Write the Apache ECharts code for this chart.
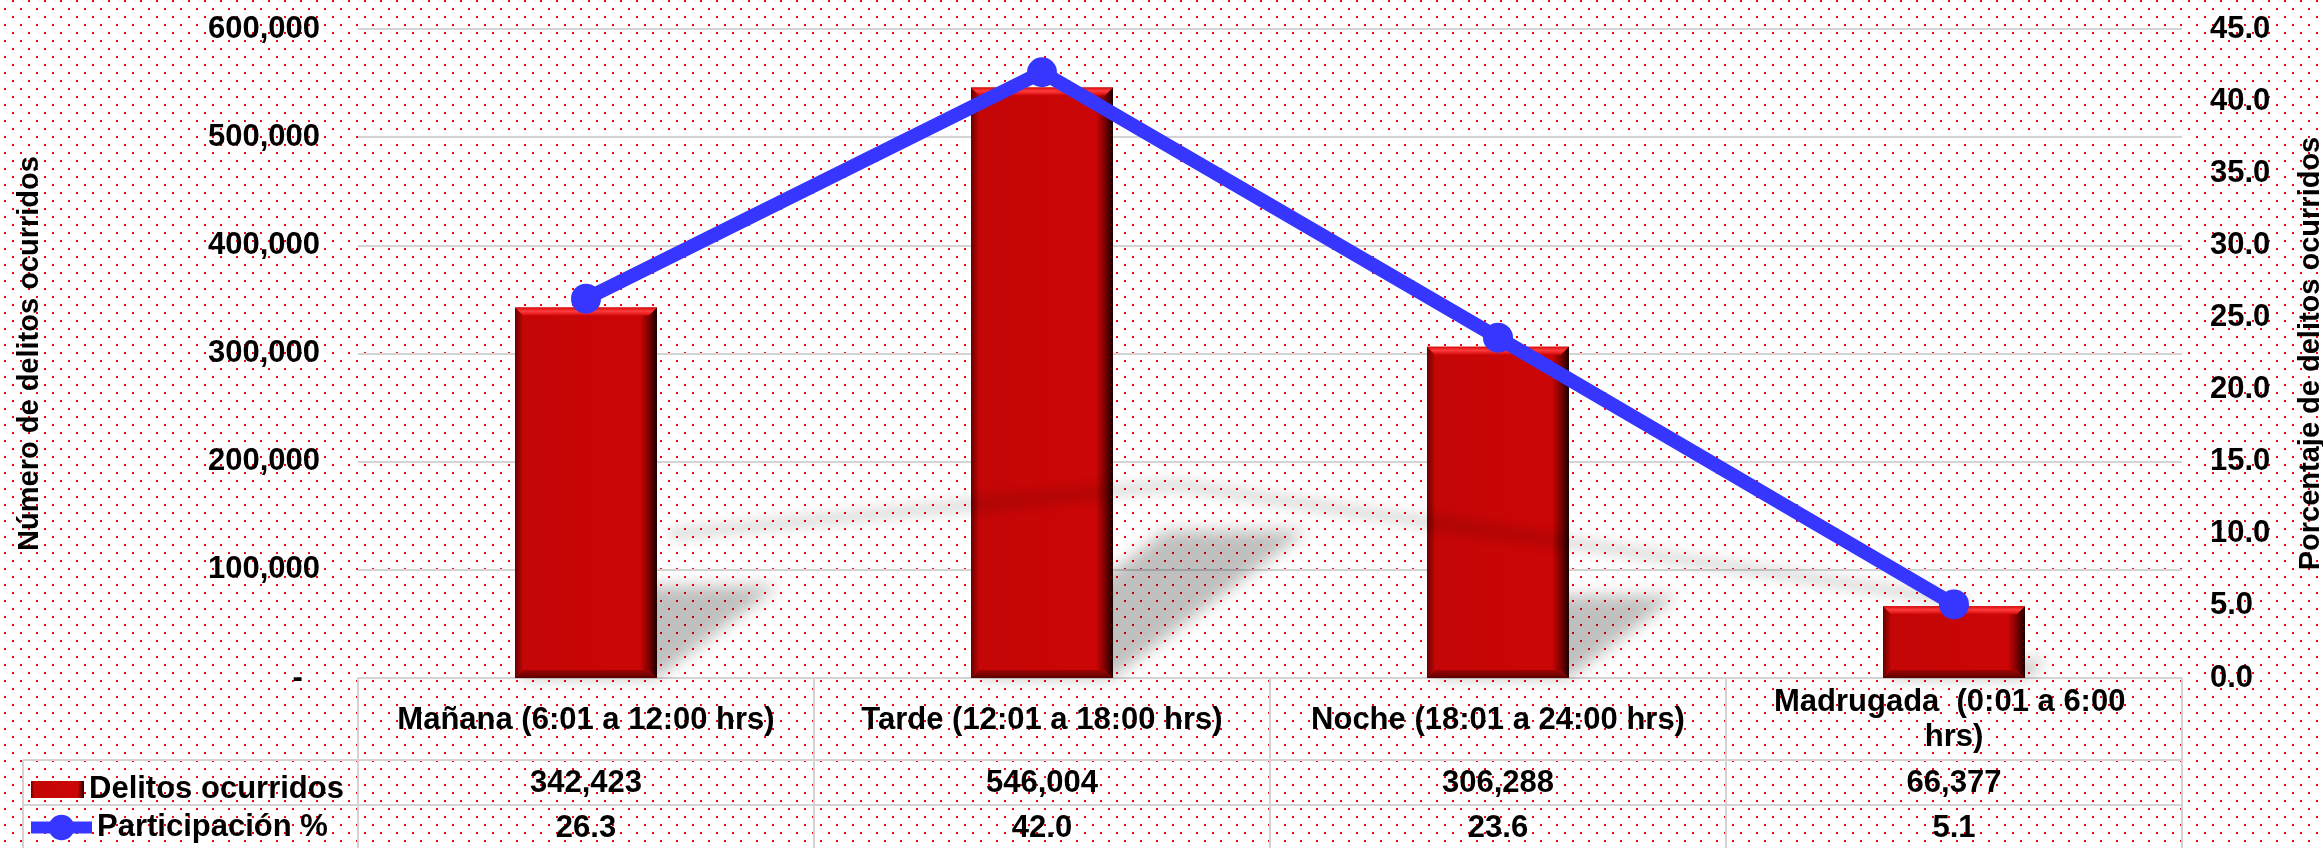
<!DOCTYPE html>
<html>
<head>
<meta charset="utf-8">
<script src="https://cdn.jsdelivr.net/npm/echarts@6/dist/echarts.min.js"></script>
<style>
  html, body { margin: 0; padding: 0; background: #fff; }
  #chart { width: 2323px; height: 848px; }
</style>
</head>
<body>
<div id="chart"></div>
<script>
'use strict';
// datos
const categories = ['Mañana (6:01 a 12:00 hrs)', 'Tarde (12:01 a 18:00 hrs)', 'Noche (18:01 a 24:00 hrs)', 'Madrugada  (0:01 a 6:00 hrs)'];
const delitos = [342423, 546004, 306288, 66377];
const participacion = [26.3, 42.0, 23.6, 5.1];
const leftMax = 600000, leftStep = 100000;
const rightMax = 45, rightStep = 5;

// layout
const GL = 358, GR = 2182, GT = 29, GB = 678;
const ROW1 = 760, ROW2 = 805, TABLE_L = 23, H = 848;
const BAR_W = 142;
const OFF = 4000; // para dibujar solo la sombra difusa
const FONT = 'Liberation Sans';
const GRID_GREY = '#d4d4d4';

// fondo punteado
const tile = document.createElement('canvas');
tile.width = 16; tile.height = 16;
const tctx = tile.getContext('2d');
tctx.fillStyle = '#ffffff';
tctx.fillRect(0, 0, 16, 16);
tctx.fillStyle = '#ff0000';
tctx.fillRect(12, 0, 2, 2);
tctx.fillRect(4, 8, 2, 2);

const fmtInt = v => v.toLocaleString('en-US');

function barShadow(params, api) {
  const i = api.value(0);
  const top = api.coord([i, api.value(1)]);
  const base = api.coord([i, 0])[1];
  const h = base - top[1];
  const x0 = top[0] - BAR_W / 2, x1 = top[0] + BAR_W / 2;
  const dx = 0.33 * h, dy = 0.25 * h;
  return {
    type: 'polygon',
    silent: true,
    shape: { points: [[x0 - OFF, base], [x1 - OFF, base], [x1 + dx - OFF, base - dy], [x0 + dx - OFF, base - dy]] },
    style: { fill: '#000', shadowBlur: 16, shadowColor: 'rgba(0,0,0,0.25)', shadowOffsetX: OFF }
  };
}

function barBevel(params, api) {
  const i = api.value(0);
  const top = api.coord([i, api.value(1)]);
  const base = api.coord([i, 0])[1];
  const x0 = top[0] - BAR_W / 2, x1 = top[0] + BAR_W / 2, y0 = top[1];
  const b = 8;
  return {
    type: 'group',
    silent: true,
    children: [
      {
        type: 'polygon',
        shape: { points: [[x0, y0], [x1, y0], [x1 - b, y0 + b], [x0 + b, y0 + b]] },
        style: { fill: new echarts.graphic.LinearGradient(0, 0, 0, 1, [
          { offset: 0, color: '#d80a0a' }, { offset: 0.45, color: '#ff3d3d' }, { offset: 1, color: '#d20808' }]) }
      },
      {
        type: 'polygon',
        shape: { points: [[x0, base], [x1, base], [x1 - b, base - b], [x0 + b, base - b]] },
        style: { fill: new echarts.graphic.LinearGradient(0, 0, 0, 1, [
          { offset: 0, color: '#a00404' }, { offset: 1, color: '#5a0000' }]) }
      }
    ]
  };
}

function lineShadow(params, api) {
  if (params.dataIndex !== 0) return null;
  const pts = participacion.map((v, i) => {
    const p = api.coord([i, v]);
    const base = api.coord([i, 0])[1];
    const h = base - p[1];
    return [p[0] + 0.22 * h - OFF, base - 60 - 0.22 * h];
  });
  return {
    type: 'polyline',
    silent: true,
    shape: { points: pts },
    style: { stroke: '#000', fill: null, lineWidth: 14, lineJoin: 'round', shadowBlur: 12, shadowColor: 'rgba(0,0,0,0.12)', shadowOffsetX: OFF }
  };
}

const chart = echarts.init(document.getElementById('chart'));
const txt = { fontFamily: FONT, fontWeight: 'bold', color: '#000', fontSize: 31 };

chart.setOption({
  animation: false,
  backgroundColor: { image: tile, repeat: 'repeat' },
  textStyle: { fontFamily: FONT },
  grid: { left: GL, right: 2323 - GR, top: GT, bottom: H - GB, containLabel: false, outerBoundsMode: 'none' },
  legend: [
    {
      data: ['Delitos ocurridos'], left: TABLE_L + 8, top: 774, padding: 0,
      itemWidth: 53, itemHeight: 17, icon: 'rect', selectedMode: false,
      textStyle: Object.assign({}, txt)
    },
    {
      data: ['Participación %'], left: TABLE_L + 2, top: 812, padding: 0,
      itemWidth: 61, itemHeight: 32, selectedMode: false,
      lineStyle: { width: 12 },
      textStyle: Object.assign({}, txt)
    }
  ],
  xAxis: [
    {
      type: 'category', data: categories, position: 'bottom',
      axisLine: { show: true, lineStyle: { color: GRID_GREY, width: 2 } },
      axisTick: { show: true, length: H - GB, lineStyle: { color: GRID_GREY, width: 2 } },
      axisLabel: Object.assign({}, txt, { interval: 0, margin: 42, verticalAlign: 'middle', width: 405, overflow: 'break', lineHeight: 35 })
    },
    {
      type: 'category', data: categories, position: 'bottom',
      axisLine: { show: false }, axisTick: { show: false },
      axisLabel: Object.assign({}, txt, { interval: 0, margin: 105, verticalAlign: 'middle',
        formatter: (v, i) => fmtInt(delitos[i]) })
    },
    {
      type: 'category', data: categories, position: 'bottom',
      axisLine: { show: false }, axisTick: { show: false },
      axisLabel: Object.assign({}, txt, { interval: 0, margin: 150, verticalAlign: 'middle',
        formatter: (v, i) => participacion[i].toFixed(1) })
    }
  ],
  yAxis: [
    {
      type: 'value', min: 0, max: leftMax, interval: leftStep, position: 'left',
      name: 'Número de delitos ocurridos', nameLocation: 'middle', nameRotate: 90, nameGap: 314,
      nameTextStyle: Object.assign({}, txt, { fontSize: 29 }),
      axisLine: { show: false }, axisTick: { show: false },
      splitLine: { show: true, lineStyle: { color: GRID_GREY, width: 2 } },
      axisLabel: Object.assign({}, txt, { margin: 38, formatter: v => v === 0 ? '-  ' : fmtInt(v) })
    },
    {
      type: 'value', min: 0, max: rightMax, interval: rightStep, position: 'right',
      name: 'Porcentaje de delitos ocurridos', nameLocation: 'middle', nameRotate: 90, nameGap: 114,
      nameTextStyle: Object.assign({}, txt, { fontSize: 29 }),
      axisLine: { show: false }, axisTick: { show: false },
      splitLine: { show: false },
      axisLabel: Object.assign({}, txt, { margin: 28, formatter: v => v.toFixed(1) })
    }
  ],
  graphic: [
    { type: 'line', silent: true, shape: { x1: TABLE_L, y1: ROW1, x2: GR, y2: ROW1 }, style: { stroke: GRID_GREY, lineWidth: 2 } },
    { type: 'line', silent: true, shape: { x1: TABLE_L, y1: ROW2, x2: GR, y2: ROW2 }, style: { stroke: GRID_GREY, lineWidth: 2 } },
    { type: 'line', silent: true, shape: { x1: TABLE_L, y1: ROW1, x2: TABLE_L, y2: H }, style: { stroke: GRID_GREY, lineWidth: 2 } }
  ],
  series: [
    {
      name: 'sombra barras', type: 'custom', z: 1, silent: true,
      xAxisIndex: 0, yAxisIndex: 0,
      data: delitos.map((v, i) => [i, v]),
      renderItem: barShadow
    },
    {
      name: 'Delitos ocurridos', type: 'bar', z: 2,
      xAxisIndex: 0, yAxisIndex: 0,
      barWidth: BAR_W,
      data: delitos,
      itemStyle: {
        color: new echarts.graphic.LinearGradient(0, 0, 1, 0, [
          { offset: 0, color: '#6a0000' },
          { offset: 0.06, color: '#c40606' },
          { offset: 0.88, color: '#cc0606' },
          { offset: 0.95, color: '#700000' },
          { offset: 1, color: '#1a0000' }
        ])
      }
    },
    {
      name: 'bisel', type: 'custom', z: 3, silent: true,
      xAxisIndex: 0, yAxisIndex: 0,
      data: delitos.map((v, i) => [i, v]),
      renderItem: barBevel
    },
    {
      name: 'sombra linea', type: 'custom', z: 4, silent: true,
      xAxisIndex: 0, yAxisIndex: 1,
      data: participacion.map((v, i) => [i, v]),
      renderItem: lineShadow
    },
    {
      name: 'Participación %', type: 'line', z: 5,
      xAxisIndex: 0, yAxisIndex: 1,
      data: participacion,
      symbol: 'circle', symbolSize: 30,
      lineStyle: { color: '#3636ff', width: 14 },
      itemStyle: { color: '#3636ff' }
    }
  ]
});
</script>
</body>
</html>
